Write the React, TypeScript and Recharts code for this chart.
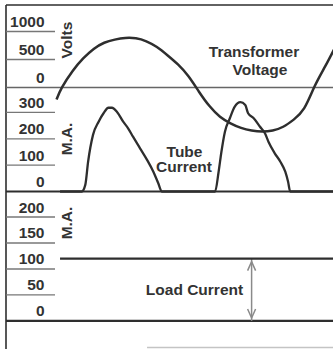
import React from 'react'
import { ComposedChart, Line, XAxis, YAxis, ReferenceLine } from 'recharts'

// phase in electrical degrees, shared by all three traces
const voltPhase = [-8, 0, 15, 30, 45, 60, 75, 90, 105, 120, 135, 150, 165, 180, 195, 210, 225, 240, 255, 270, 285, 300, 315, 330, 345, 360, 375, 390]
const voltValues = [-215, 5, 294, 518, 688, 799, 855, 884, 878, 825, 722, 576, 411, 200, -75, -332, -521, -639, -721, -768, -787, -768, -701, -574, -370, 25, 380, 740]

const tubePhase = [-3, 28, 33, 37, 44, 52, 59, 66, 71, 78, 87, 94, 101, 111, 121, 130, 137, 142, 218, 223, 227, 232, 239, 246, 254, 261, 265, 273, 282, 289, 294, 303, 311, 318, 322, 325, 386]
const tubeValues = [0, 0, 25, 113, 215, 265, 297, 318, 318, 303, 265, 240, 208, 164, 120, 75, 31, 0, 0, 75, 151, 227, 278, 322, 339, 328, 297, 278, 246, 221, 189, 145, 113, 75, 37, 0, 0]

const loadPhase = [-3, 386]
const loadValues = [120, 120]

const voltTicks = [0, 500, 1000]
const tubeTicks = [0, 100, 200, 300]
const loadTicks = [0, 50, 100, 150, 200]

const voltData = voltPhase.map((deg, i) => ({ deg, v: voltValues[i] }))
const tubeData = tubePhase.map((deg, i) => ({ deg, ma: tubeValues[i] }))
const loadData = loadPhase.map((deg, i) => ({ deg, ma: loadValues[i] }))

const INK = '#2e2e2e'
const FONT = '"Liberation Sans", Arial, sans-serif'

const textStyle = {
  fontFamily: FONT,
  fontSize: 15.5,
  fontWeight: 700,
  fill: '#333',
}

// value label sitting on a short rule, drawn inside the frame
function ScaleTick(props: any) {
  const { y, payload } = props
  return (
    <g>
      {payload.value !== 0 && (
        <line x1={6} x2={55} y1={y} y2={y} stroke="#777" strokeWidth={1.3} />
      )}
      <text x={44.5} y={y - 4.5} textAnchor="end" style={textStyle}>
        {payload.value}
      </text>
    </g>
  )
}

function DoubleArrow(props: any) {
  const { x1, y1, y2 } = props
  const top = Math.min(y1, y2)
  const bot = Math.max(y1, y2)
  return (
    <g stroke="#8a8a8a" strokeWidth={1.5} fill="none">
      <line x1={x1} x2={x1} y1={top} y2={bot} />
      <polyline points={`${x1 - 4},${top + 12} ${x1},${top + 3} ${x1 + 4},${top + 12}`} />
      <polyline points={`${x1 - 4},${bot - 12} ${x1},${bot - 3} ${x1 + 4},${bot - 12}`} />
    </g>
  )
}

function AxisName({ x, y, children }: { x: number; y: number; children: string }) {
  return (
    <text
      x={x}
      y={y}
      transform={`rotate(-90, ${x}, ${y})`}
      textAnchor="middle"
      dominantBaseline="central"
      style={textStyle}
    >
      {children}
    </text>
  )
}

export default function App() {
  return (
    <div style={{ position: 'absolute', left: 0, top: 0, background: '#fff' }}>
      <ComposedChart width={333} height={349} margin={{ top: 5, right: 0, bottom: 0, left: 3 }}>
        <XAxis type="number" dataKey="deg" domain={[-80, 386]} allowDataOverflow hide />
        <YAxis yAxisId="volt" type="number" domain={[-4670, 1473]} allowDataOverflow width={1}
          ticks={voltTicks} interval={0} axisLine={false} tickLine={false} tick={<ScaleTick />} />
        <YAxis yAxisId="tube" type="number" domain={[-598, 708]} allowDataOverflow width={1}
          ticks={tubeTicks} interval={0} axisLine={false} tickLine={false} tick={<ScaleTick />} />
        <YAxis yAxisId="load" type="number" domain={[-54, 608]} allowDataOverflow width={1}
          ticks={loadTicks} interval={0} axisLine={false} tickLine={false} tick={<ScaleTick />} />

        {/* frame */}
        <ReferenceLine yAxisId="volt" y={1473} stroke={INK} strokeWidth={1.6} ifOverflow="visible" />
        <ReferenceLine yAxisId="volt" x={-80} stroke={INK} strokeWidth={1.6} ifOverflow="visible" />
        <ReferenceLine yAxisId="load" segment={[{ x: 121, y: -51 }, { x: 386, y: -51 }]}
          stroke="#c4c4c4" strokeWidth={1.5} ifOverflow="visible" />

        {/* zero lines of each panel */}
        <ReferenceLine yAxisId="volt" y={0} stroke="#666" strokeWidth={1.5} />
        <ReferenceLine yAxisId="tube" y={0} stroke={INK} strokeWidth={2} />
        <ReferenceLine yAxisId="load" y={0} stroke={INK} strokeWidth={2.2} />

        <ReferenceLine yAxisId="load" segment={[{ x: 270, y: 0 }, { x: 270, y: 120 }]}
          shape={<DoubleArrow />} />

        <Line yAxisId="volt" data={voltData} dataKey="v" type="natural" stroke={INK}
          strokeWidth={2.5} dot={false} isAnimationActive={false} />
        <Line yAxisId="tube" data={tubeData} dataKey="ma" type="monotone" stroke={INK}
          strokeWidth={2.3} dot={false} isAnimationActive={false} />
        <Line yAxisId="load" data={loadData} dataKey="ma" type="linear" stroke={INK}
          strokeWidth={2.4} dot={false} isAnimationActive={false} />

        <AxisName x={66} y={40}>Volts</AxisName>
        <AxisName x={66} y={139}>M.A.</AxisName>
        <AxisName x={66} y={223}>M.A.</AxisName>

        <text x={254} y={57} textAnchor="middle" style={textStyle}>Transformer</text>
        <text x={260} y={75} textAnchor="middle" style={textStyle}>Voltage</text>
        <text x={184.5} y={156.5} textAnchor="middle" style={textStyle}>Tube</text>
        <text x={184} y={172} textAnchor="middle" style={textStyle}>Current</text>
        <text x={194.5} y={295} textAnchor="middle" style={textStyle}>Load Current</text>
      </ComposedChart>
    </div>
  )
}
